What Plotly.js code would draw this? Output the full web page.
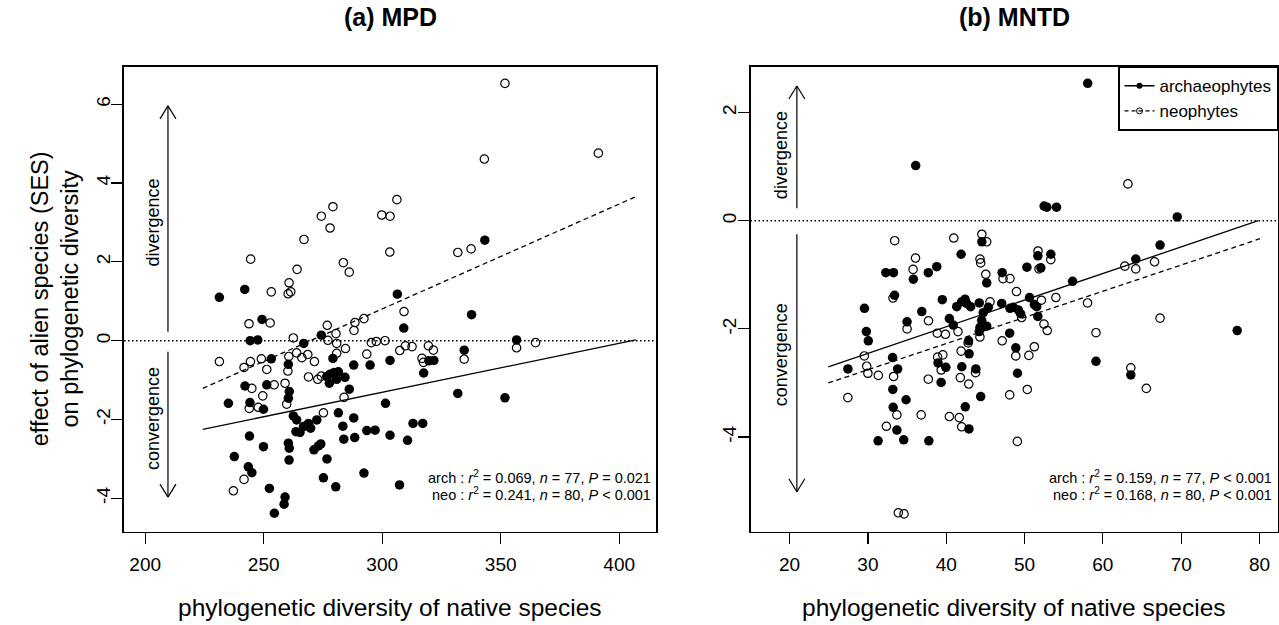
<!DOCTYPE html>
<html>
<head>
<meta charset="utf-8">
<script src="https://cdn.plot.ly/plotly-3.0.1.min.js"></script>
<style>html,body{margin:0;padding:0;background:#fff;}#chart{width:1279px;height:625px;}</style>
</head>
<body>
<div id="chart"></div>
<script>
// ---------- data: (a) MPD ----------
const archA_x = [231.3, 242.0, 249.3, 306.4, 309.1, 274.3, 343.3, 337.7, 356.7, 334.6, 331.9, 351.8, 317.5, 319.7, 321.8, 244.3, 247.5, 266.9, 253.2, 260.4, 279.2, 288.0, 294.9, 303.3, 276.6, 278.0, 279.7, 281.5, 277.7, 280.8, 284.3, 286.1, 242.1, 251.3, 260.8, 260.4, 235.1, 244.2, 249.9, 301.4, 281.5, 288.0, 262.5, 263.9, 266.8, 268.9, 269.8, 272.4, 265.3, 263.6, 283.4, 283.8, 288.4, 293.5, 297.0, 303.3, 310.7, 313.0, 317.1, 244.0, 249.9, 260.4, 260.8, 271.2, 273.1, 274.1, 276.7, 260.7, 237.6, 243.5, 245.0, 252.4, 259.0, 258.6, 254.5, 275.2, 280.4, 292.3, 307.3];
const archA_y = [1.10, 1.30, 0.54, 1.18, 0.32, 0.14, 2.55, 0.66, 0.02, -0.24, -1.34, -1.45, -0.82, -0.51, -0.50, 0.00, 0.02, -0.07, -0.46, -0.60, -0.45, -0.62, -0.62, -0.50, -0.91, -0.85, -0.81, -0.79, -1.08, -0.98, -0.93, -1.23, -1.15, -1.12, -1.29, -1.46, -1.59, -1.57, -1.74, -1.59, -1.83, -1.96, -1.91, -2.01, -2.18, -2.10, -2.22, -2.01, -2.33, -2.31, -2.17, -2.50, -2.46, -2.28, -2.27, -2.40, -2.53, -2.10, -2.10, -2.42, -2.69, -2.60, -2.73, -2.77, -2.67, -2.62, -3.00, -3.03, -2.94, -3.20, -3.35, -3.75, -3.97, -4.15, -4.38, -3.48, -3.71, -3.36, -3.66];
const neoA_x = [244.5, 267.0, 274.3, 279.2, 278.0, 299.8, 303.3, 306.2, 303.2, 283.6, 286.1, 264.1, 260.7, 260.3, 261.4, 253.2, 243.8, 252.7, 276.8, 292.3, 288.5, 288.1, 309.2, 280.5, 351.8, 343.1, 391.2, 331.9, 337.5, 356.7, 364.7, 334.6, 319.5, 321.6, 316.8, 262.5, 277.1, 295.4, 297.5, 301.2, 284.5, 307.4, 309.8, 312.6, 317.4, 231.3, 241.7, 244.4, 249.0, 251.3, 260.6, 260.2, 263.9, 266.1, 268.6, 271.4, 280.8, 293.5, 268.9, 272.8, 274.3, 283.9, 245.0, 254.4, 259.0, 259.7, 249.6, 243.9, 247.7, 275.2, 241.7, 237.2, 280.8];
const neoA_y = [2.07, 2.57, 3.16, 3.40, 2.86, 3.19, 3.16, 3.58, 2.25, 1.98, 1.74, 1.81, 1.47, 1.19, 1.24, 1.24, 0.43, 0.45, 0.39, 0.56, 0.46, 0.26, 0.74, 0.18, 6.53, 4.61, 4.76, 2.24, 2.33, -0.18, -0.05, -0.47, -0.13, -0.24, -0.45, 0.07, 0.01, -0.05, -0.02, 0.00, -0.20, -0.25, -0.13, -0.15, -0.55, -0.53, -0.68, -0.53, -0.46, -0.73, -0.40, -0.77, -0.31, -0.43, -0.35, -0.53, -0.32, -0.34, -0.92, -0.98, -0.90, -1.44, -1.21, -1.12, -1.08, -1.61, -1.40, -1.72, -1.69, -1.83, -3.52, -3.81, -0.07];
const fitA_x = [224.3, 407.0];
const fitA_arch = [-2.25, 0.02];
const fitA_neo = [-1.21, 3.655];

// ---------- data: (b) MNTD ----------
const archB_x = [58.06, 36.1, 52.5, 52.85, 54.08, 69.5, 44.55, 41.9, 67.3, 51.7, 53.35, 52.08, 32.29, 33.27, 35.8, 37.71, 38.79, 50.3, 64.2, 56.13, 45.17, 47.14, 33.4, 39.5, 50.64, 51.25, 29.56, 36.88, 49.5, 51.7, 77.15, 59.12, 63.57, 49.1, 41.34, 41.97, 42.4, 42.61, 43.12, 44.22, 45.37, 44.73, 44.53, 45.17, 44.31, 44.22, 47.08, 48.14, 48.56, 49.2, 51.55, 35.0, 40.4, 40.9, 42.85, 42.92, 48.1, 48.88, 27.45, 33.15, 33.8, 38.96, 39.95, 41.99, 43.78, 39.35, 33.18, 34.87, 33.23, 33.7, 31.3, 34.57, 37.78, 42.9, 42.43, 44.4, 29.8, 30.05];
const archB_y = [2.54, 1.02, 0.27, 0.25, 0.25, 0.07, -0.39, -0.62, -0.45, -0.65, -0.62, -0.87, -0.96, -0.96, -1.08, -0.96, -0.85, -0.86, -0.71, -1.12, -1.15, -0.96, -1.38, -1.46, -1.42, -1.55, -1.62, -1.68, -1.72, -1.77, -2.03, -2.60, -2.85, -2.82, -1.59, -1.50, -1.45, -1.53, -1.59, -1.52, -1.60, -1.70, -1.84, -1.95, -1.97, -2.05, -1.53, -1.62, -1.60, -1.65, -1.59, -1.87, -1.81, -1.93, -2.22, -2.46, -2.08, -2.35, -2.74, -2.53, -2.74, -2.63, -2.71, -2.70, -2.74, -2.99, -3.12, -3.31, -3.45, -3.87, -4.07, -4.05, -4.07, -3.85, -3.44, -3.25, -2.05, -2.22];
const neoB_x = [63.2, 33.42, 40.96, 44.55, 45.17, 36.08, 51.72, 53.35, 51.84, 44.31, 44.4, 35.77, 62.8, 64.2, 66.6, 45.05, 47.25, 48.14, 48.97, 33.2, 52.15, 54.0, 58.04, 45.59, 49.63, 52.48, 52.9, 67.3, 59.12, 63.57, 65.55, 51.25, 50.55, 50.35, 49.08, 37.73, 35.0, 38.86, 39.9, 41.5, 47.14, 48.88, 29.54, 29.85, 30.0, 31.33, 33.28, 38.9, 39.57, 39.36, 41.8, 42.88, 43.75, 37.71, 27.44, 33.7, 32.36, 36.8, 40.4, 41.66, 41.97, 48.1, 33.88, 34.61, 41.9, 44.3, 42.8];
const neoB_y = [0.68, -0.37, -0.32, -0.25, -0.39, -0.69, -0.56, -0.72, -0.89, -0.71, -0.78, -0.90, -0.84, -0.89, -0.76, -0.99, -1.07, -1.07, -1.31, -1.43, -1.47, -1.42, -1.52, -1.50, -1.79, -1.91, -2.03, -1.80, -2.07, -2.72, -3.10, -2.33, -2.49, -3.12, -4.08, -1.85, -2.00, -2.08, -2.10, -2.05, -2.22, -2.50, -2.50, -2.69, -2.82, -2.86, -2.88, -2.52, -2.48, -2.76, -2.90, -3.02, -2.81, -2.93, -3.27, -3.59, -3.80, -3.59, -3.62, -3.64, -3.81, -3.22, -5.40, -5.42, -2.41, -2.15, -2.26];
const fitB_arch_x = [24.94, 79.85];
const fitB_arch = [-2.70, 0.0];
const fitB_neo_x = [24.94, 80.06];
const fitB_neo = [-3.0, -0.333];

// ---------- tick labels ----------
const xTicksA = [200, 250, 300, 350, 400];
const yTicksA = [-4, -2, 0, 2, 4, 6];
const xTicksB = [20, 30, 40, 50, 60, 70, 80];
const yTicksB = [-4, -2, 0, 2];
const labelsOf = a => a.map(v => String(v));

const statsA = ['arch : <i>r</i><sup>2</sup> = 0.069, <i>n</i> = 77, <i>P</i> = 0.021',
                'neo : <i>r</i><sup>2</sup> = 0.241, <i>n</i> = 80, <i>P</i> < 0.001'];
const statsB = ['arch : <i>r</i><sup>2</sup> = 0.159, <i>n</i> = 77, <i>P</i> < 0.001',
                'neo : <i>r</i><sup>2</sup> = 0.168, <i>n</i> = 80, <i>P</i> < 0.001'];

// arrows: [x, tail y, tip y] in data units of each panel
const arrowsA = [[209.6, 0.23, 5.96], [209.6, -0.28, -3.97]];
const arrowsB = [[20.93, 0.23, 2.49], [20.93, -0.25, -5.01]];

// ---------- styling ----------
const FONT = 'Liberation Sans, Arial, Helvetica, sans-serif';
const W = 1279, H = 625;
const px = v => v / W, py = v => 1 - v / H;

const filled = {symbol: 'circle', size: 9.5, color: '#000', line: {width: 0}};
const open = {symbol: 'circle-open', size: 8.4, color: '#000', line: {width: 1.2, color: '#000'}};

const traces = [
  {x: archA_x, y: archA_y, type: 'scatter', mode: 'markers', marker: filled, xaxis: 'x', yaxis: 'y', showlegend: false},
  {x: neoA_x, y: neoA_y, type: 'scatter', mode: 'markers', marker: open, xaxis: 'x', yaxis: 'y', showlegend: false},
  {x: fitA_x, y: fitA_arch, type: 'scatter', mode: 'lines', line: {color: '#000', width: 1.3}, xaxis: 'x', yaxis: 'y', showlegend: false},
  {x: fitA_x, y: fitA_neo, type: 'scatter', mode: 'lines', line: {color: '#000', width: 1.3, dash: '5px,3.5px'}, xaxis: 'x', yaxis: 'y', showlegend: false},
  {x: archB_x, y: archB_y, type: 'scatter', mode: 'markers', marker: filled, xaxis: 'x2', yaxis: 'y2', showlegend: false},
  {x: neoB_x, y: neoB_y, type: 'scatter', mode: 'markers', marker: open, xaxis: 'x2', yaxis: 'y2', showlegend: false},
  {x: fitB_arch_x, y: fitB_arch, type: 'scatter', mode: 'lines', line: {color: '#000', width: 1.3}, xaxis: 'x2', yaxis: 'y2', showlegend: false},
  {x: fitB_neo_x, y: fitB_neo, type: 'scatter', mode: 'lines', line: {color: '#000', width: 1.3, dash: '5px,3.5px'}, xaxis: 'x2', yaxis: 'y2', showlegend: false},
  // legend entries
  {x: [null], y: [null], type: 'scatter', mode: 'lines+markers', name: 'archaeophytes',
   line: {color: '#000', width: 1.5}, marker: {symbol: 'circle', size: 6, color: '#000'}, xaxis: 'x2', yaxis: 'y2'},
  {x: [null], y: [null], type: 'scatter', mode: 'lines+markers', name: 'neophytes',
   line: {color: '#000', width: 1.3, dash: '4px,3px'}, marker: {symbol: 'circle-open', size: 6, color: '#000', line: {width: 1}}, xaxis: 'x2', yaxis: 'y2'}
];

const axisBase = {
  showgrid: false, zeroline: false, showline: true, mirror: true,
  linecolor: '#000', linewidth: 1.7, ticks: 'outside', ticklen: 11, tickwidth: 1.2,
  tickcolor: '#000', tickfont: {family: FONT, size: 19, color: '#000'}, automargin: false, fixedrange: true
};

const yDomain = [py(531.7), py(66.7)];

// arrows drawn as shapes: a shaft in data units plus an open head whose barbs are pixel offsets from the tip
function arrowShapes(list, xr, yr) {
  const out = [];
  const ln = {color: '#000', width: 1.2};
  list.forEach(([x, y0, y1]) => {
    const dir = y1 > y0 ? 1 : -1;
    out.push({type: 'line', xref: xr, yref: yr, x0: x, x1: x, y0: y0, y1: y1, line: ln});
    [-8, 8].forEach(dx => out.push({type: 'line', xref: xr, yref: yr,
      xsizemode: 'pixel', ysizemode: 'pixel', xanchor: x, yanchor: y1,
      x0: 0, y0: 0, x1: dx, y1: -13 * dir, line: ln}));
  });
  return out;
}

const txt = (o) => Object.assign({showarrow: false, xanchor: 'center', yanchor: 'middle'}, o);

const layout = {
  width: W, height: H,
  margin: {l: 0, r: 0, t: 0, b: 0, pad: 0},
  paper_bgcolor: '#fff', plot_bgcolor: '#fff',
  font: {family: FONT, color: '#000'},
  hovermode: false,
  xaxis: Object.assign({}, axisBase, {domain: [px(124), px(656)], range: [191.05, 415.53],
    tickmode: 'array', tickvals: xTicksA, ticktext: labelsOf(xTicksA), ticklabelstandoff: 4, anchor: 'y'}),
  yaxis: Object.assign({}, axisBase, {domain: yDomain, range: [-4.848, 6.954],
    tickmode: 'array', tickvals: yTicksA, ticktext: labelsOf(yTicksA), tickangle: -90, ticklabelstandoff: -6, anchor: 'x'}),
  xaxis2: Object.assign({}, axisBase, {domain: [px(750.5), px(1278)], range: [15.01, 82.36],
    tickmode: 'array', tickvals: xTicksB, ticktext: labelsOf(xTicksB), ticklabelstandoff: 4, anchor: 'y2'}),
  yaxis2: Object.assign({}, axisBase, {domain: yDomain, range: [-5.749, 2.847],
    tickmode: 'array', tickvals: yTicksB, ticktext: labelsOf(yTicksB), tickangle: -90, ticklabelstandoff: -6, anchor: 'x2'}),
  showlegend: true,
  legend: {x: px(1278), xanchor: 'right', y: py(66.7), yanchor: 'top',
    bgcolor: '#fff', bordercolor: '#000', borderwidth: 1.5,
    font: {family: FONT, size: 17, color: '#000'}, itemwidth: 30, tracegroupgap: 0},
  shapes: [
    {type: 'line', xref: 'x domain', yref: 'y', x0: 0, x1: 1, y0: 0, y1: 0, line: {color: '#000', width: 1.6, dash: '1.6px,2.4px'}},
    {type: 'line', xref: 'x2 domain', yref: 'y2', x0: 0, x1: 1, y0: 0, y1: 0, line: {color: '#000', width: 1.6, dash: '1.6px,2.4px'}}
  ].concat(arrowShapes(arrowsA, 'x', 'y'), arrowShapes(arrowsB, 'x2', 'y2')),
  annotations: [
    // panel titles
    txt({text: '<b>(a) MPD</b>', xref: 'x domain', yref: 'paper', x: 0.5, y: py(17), font: {family: FONT, size: 25}}),
    txt({text: '<b>(b) MNTD</b>', xref: 'x2 domain', yref: 'paper', x: 0.5, y: py(17), font: {family: FONT, size: 25}}),
    // x-axis titles
    txt({text: 'phylogenetic diversity of native species', xref: 'x domain', yref: 'paper', x: 0.5, y: py(607), font: {family: FONT, size: 24.5}}),
    txt({text: 'phylogenetic diversity of native species', xref: 'x2 domain', yref: 'paper', x: 0.5, y: py(607), font: {family: FONT, size: 24.5}}),
    // y-axis title
    txt({text: 'effect of alien species (SES)<br>on phylogenetic diversity', xref: 'paper', yref: 'y domain', x: px(55), y: 0.5,
     textangle: -90, font: {family: FONT, size: 23.5}}),
    // arrow labels
    txt({xref: 'x', yref: 'y', x: 203.3, y: 3.0, text: 'divergence', textangle: -90, font: {family: FONT, size: 18}}),
    txt({xref: 'x', yref: 'y', x: 203.3, y: -1.99, text: 'convergence', textangle: -90, font: {family: FONT, size: 18}}),
    txt({xref: 'x2', yref: 'y2', x: 18.83, y: 1.22, text: 'divergence', textangle: -90, font: {family: FONT, size: 18}}),
    txt({xref: 'x2', yref: 'y2', x: 18.83, y: -2.48, text: 'convergence', textangle: -90, font: {family: FONT, size: 18}}),
    // stats
    txt({text: statsA[0], xref: 'paper', yref: 'paper', x: px(652.5), y: py(476.5), xanchor: 'right', font: {family: FONT, size: 14.5}}),
    txt({text: statsA[1], xref: 'paper', yref: 'paper', x: px(652.5), y: py(493.5), xanchor: 'right', font: {family: FONT, size: 14.5}}),
    txt({text: statsB[0], xref: 'paper', yref: 'paper', x: px(1274), y: py(476.5), xanchor: 'right', font: {family: FONT, size: 14.5}}),
    txt({text: statsB[1], xref: 'paper', yref: 'paper', x: px(1274), y: py(493.5), xanchor: 'right', font: {family: FONT, size: 14.5}})
  ]
};

Plotly.newPlot('chart', traces, layout, {staticPlot: true, displayModeBar: false});
</script>
</body>
</html>
